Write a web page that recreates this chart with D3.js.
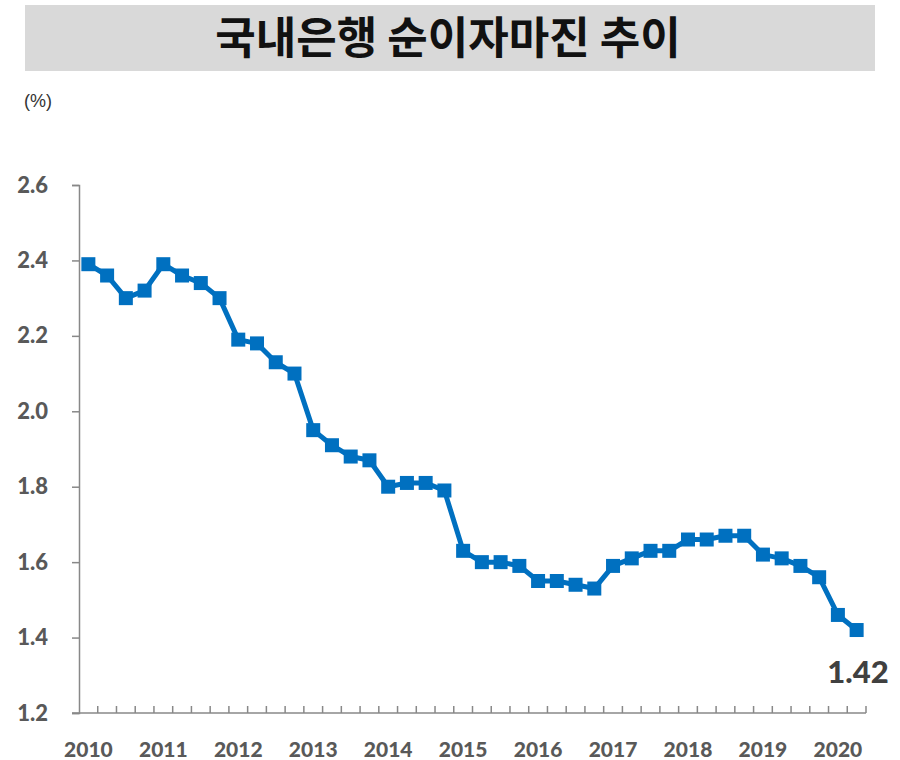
<!DOCTYPE html>
<html>
<head>
<meta charset="utf-8">
<script src="https://cdn.jsdelivr.net/npm/d3@7"></script>
<style>
  body { margin: 0; background: #fff; }
  svg { display: block; }
</style>
</head>
<body>
<div id="chart"></div>
<script>
// 분기별 순이자마진 (2010 1Q ~ 2020 2Q)
var years = ['2010', '2011', '2012', '2013', '2014', '2015', '2016', '2017', '2018', '2019', '2020'];
var quarters = ['1Q', '2Q', '3Q', '4Q'];
var nim = [
  2.39, 2.36, 2.30, 2.32,
  2.39, 2.36, 2.34, 2.30,
  2.19, 2.18, 2.13, 2.10,
  1.95, 1.91, 1.88, 1.87,
  1.80, 1.81, 1.81, 1.79,
  1.63, 1.60, 1.60, 1.59,
  1.55, 1.55, 1.54, 1.53,
  1.59, 1.61, 1.63, 1.63,
  1.66, 1.66, 1.67, 1.67,
  1.62, 1.61, 1.59, 1.56,
  1.46, 1.42
];
var yTicks = [1.2, 1.4, 1.6, 1.8, 2.0, 2.2, 2.4, 2.6];

// 분기 키 만들기
var periods = nim.map(function(v, i) {
  return years[Math.floor(i / 4)] + '-' + quarters[i % 4];
});
var data = nim.map(function(v, i) {
  return { period: periods[i], value: v };
});

var width = 900;
var height = 760;
var margin = { top: 185, right: 34, bottom: 47, left: 79 };
var w = width - margin.left - margin.right;
var h = height - margin.top - margin.bottom;

var svg = d3.select('#chart').append('svg')
  .attr('width', width).attr('height', height);

// 제목 박스
svg.append('rect')
  .attr('x', 25).attr('y', 5)
  .attr('width', 850).attr('height', 66)
  .attr('fill', '#d9d9d9');
svg.append('text')
  .attr('x', 448).attr('y', 54)
  .attr('text-anchor', 'middle')
  .style('font-family', '"Noto Sans CJK KR", sans-serif')
  .style('font-weight', 'bold')
  .style('font-size', '44px')
  .attr('fill', '#111')
  .text('국내은행 순이자마진 추이');

// 단위
svg.append('text')
  .attr('x', 24).attr('y', 107)
  .style('font-family', '"Liberation Sans", Arial, sans-serif')
  .style('font-size', '18px')
  .attr('fill', '#333')
  .text('(%)');

var g = svg.append('g')
  .attr('transform', 'translate(' + margin.left + ',' + margin.top + ')');

var x = d3.scaleBand().domain(periods).range([0, w]);
var y = d3.scaleLinear().domain([1.2, 2.6]).range([h, 0]);

var axisColor = '#888';
var labelColor = '#595959';
var numFont = 'Lato, "Open Sans", sans-serif';

// y축
var yAxis = g.append('g')
  .call(d3.axisLeft(y).tickValues(yTicks).tickFormat(d3.format('.1f')).tickSize(7).tickPadding(24));
yAxis.select('.domain').attr('stroke', axisColor).attr('stroke-width', 1.5);
yAxis.selectAll('.tick line').attr('stroke', axisColor).attr('stroke-width', 1.5);
yAxis.selectAll('.tick text')
  .style('font-family', numFont).style('font-weight', '900').style('font-size', '22px')
  .attr('fill', labelColor);

// x축 (분기 경계 눈금)
var xAxisG = g.append('g').attr('transform', 'translate(0,' + h + ')');
xAxisG.append('line')
  .attr('x1', -7).attr('x2', w)
  .attr('stroke', axisColor).attr('stroke-width', 1.5);
xAxisG.selectAll('.qtick').data(periods).enter()
  .append('line')
  .attr('class', 'qtick')
  .attr('x1', function(d) { return x(d) + x.bandwidth(); })
  .attr('x2', function(d) { return x(d) + x.bandwidth(); })
  .attr('y1', 0).attr('y2', -7)
  .attr('stroke', axisColor).attr('stroke-width', 1.5);
xAxisG.selectAll('.ylabel').data(years).enter()
  .append('text')
  .attr('class', 'ylabel')
  .attr('x', function(d) { return x(d + '-1Q') + x.bandwidth() / 2; })
  .attr('y', 44)
  .attr('text-anchor', 'middle')
  .style('font-family', numFont).style('font-weight', '900').style('font-size', '21px')
  .attr('fill', labelColor)
  .text(function(d) { return d; });

// 선
var line = d3.line()
  .x(function(d) { return x(d.period) + x.bandwidth() / 2; })
  .y(function(d) { return y(d.value); });

g.append('path')
  .datum(data)
  .attr('d', line)
  .attr('fill', 'none')
  .attr('stroke', '#0070c0')
  .attr('stroke-width', 5)
  .attr('stroke-linejoin', 'round');

// 마커
var ms = 14;
g.selectAll('.marker').data(data).enter()
  .append('rect')
  .attr('class', 'marker')
  .attr('x', function(d) { return x(d.period) + x.bandwidth() / 2 - ms / 2; })
  .attr('y', function(d) { return y(d.value) - ms / 2; })
  .attr('width', ms).attr('height', ms)
  .attr('fill', '#0070c0');

// 마지막 값 라벨
var last = data[data.length - 1];
g.append('text')
  .attr('x', x(last.period) + x.bandwidth() / 2 + 32)
  .attr('y', y(last.value) + 53)
  .attr('text-anchor', 'end')
  .style('font-family', numFont).style('font-weight', '900').style('font-size', '31px')
  .attr('fill', '#404040')
  .text(d3.format('.2f')(last.value));
</script>
</body>
</html>
